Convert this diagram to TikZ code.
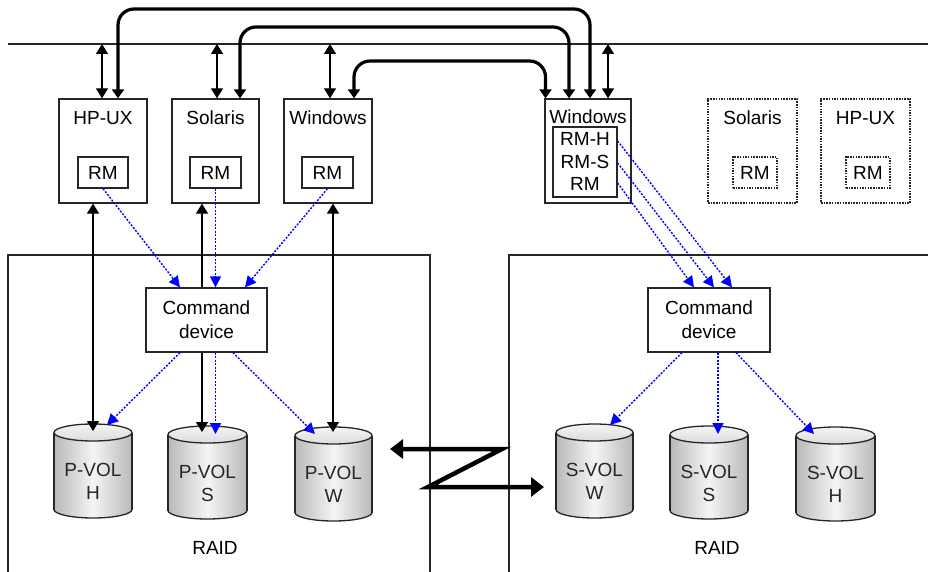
\documentclass[tikz,border=0pt]{standalone}
\usepackage{fontspec}
\setmainfont{Liberation Sans}
\usetikzlibrary{arrows.meta,calc}
\newcommand\drum[6]{%
  \pgfmathsetmacro\dcx{(#2+#3)/2}%
  \pgfmathsetmacro\drx{(#3-#2)/2}%
  \pgfmathsetmacro\dyt{#4+8.5}%
  \pgfmathsetmacro\dyb{#5-8.5}%
  \pgfmathsetmacro\dcy{(#4+#5)/2}%
  \pgfmathsetmacro\dty{#4+57}%
  \path[draw=black!85,line width=1.3pt,left color=gray!55,right color=gray!55,middle color=gray!8] (\dcx,\dyb) ellipse [x radius=\drx, y radius=8.5];
  \path[left color=gray!55,right color=gray!55,middle color=gray!8] (#2,\dyt) rectangle (#3,\dyb);
  \draw[black!85,line width=1.3pt] (#2,\dyt) -- (#2,\dyb) (#3,\dyt) -- (#3,\dyb);
  \path[draw=black!85,line width=1.3pt,top color=gray!8,bottom color=gray!28] (\dcx,\dyt) ellipse [x radius=\drx, y radius=8.5];
  \node[inner sep=0pt,minimum width=#3-#2,minimum height=#5-#4] (#1) at (\dcx,\dcy) {};
  \node[align=center,text=black!85,font=\fontsize{19}{23}\selectfont] (#1t) at (\dcx,\dty) {#6};
}
\begin{document}
\begin{tikzpicture}[x=1pt,y=-1pt,font=\fontsize{19}{24}\selectfont,
  host/.style={draw=black!85,line width=1.3pt,fill=white,inner sep=0pt},
  ghost/.style={draw=black!85,line width=1.3pt,dash pattern=on 1.5pt off 1.2pt,inner sep=0pt},
  dbl/.style={black,line width=1.3pt,{Triangle[length=10pt,width=12pt]}-{Triangle[length=10pt,width=12pt]}},
  fat/.style={black,line width=3.2pt,rounded corners=16pt,{Triangle[length=9pt,width=12pt]}-{Triangle[length=9pt,width=12pt]}},
  blu/.style={blue,line width=1.4pt,dash pattern=on 2pt off 1.5pt,-{Triangle[length=11pt,width=11pt]}},
  raid/.style={draw=black!85,line width=1.3pt}]
\useasboundingbox (0,0) rectangle (928,572);
\path[fill=white] (0,0) rectangle (928,572);

% bus line
\coordinate (busL) at (8,44);
\coordinate (busR) at (928,44);
\draw[black!85,line width=1.3pt] (busL) -- (busR);

% RAID boxes
\coordinate (rl1) at (8,575);
\coordinate (rl2) at (8,255);
\coordinate (rl3) at (430,255);
\coordinate (rl4) at (430,575);
\draw[raid] (rl1) -- (rl2) -- (rl3) -- (rl4);
\coordinate (rr1) at (509,575);
\coordinate (rr2) at (509,255);
\coordinate (rr3) at (930,255);
\draw[raid] (rr1) -- (rr2) -- (rr3);
\node (raidL) at (215,548) {RAID};
\node (raidR) at (717,548) {RAID};

% left hosts
\node[host,minimum width=88pt,minimum height=104pt] (hp) at (103,151) {};
\node (hpl) at (103,118) {HP-UX};
\node[host,minimum width=50pt,minimum height=31pt] (hprm) at (103,172.5) {RM};
\node[host,minimum width=87pt,minimum height=104pt] (so) at (215.5,151) {};
\node (sol) at (215.5,118) {Solaris};
\node[host,minimum width=51pt,minimum height=31pt] (sorm) at (215.5,172.5) {RM};
\node[host,minimum width=88pt,minimum height=104pt] (wi) at (328,151) {};
\node (wil) at (328,118) {Windows};
\node[host,minimum width=51pt,minimum height=31pt] (wirm) at (327.5,172.5) {RM};

% right host
\node[host,minimum width=86pt,minimum height=104pt] (wr) at (588,151) {};
\node (wrl) at (588,117) {Windows};
\node[host,minimum width=64pt,minimum height=70pt] (wrrm) at (585,162) {};
\node (rmh) at (585,139) {RM-H};
\node (rms) at (585,162) {RM-S};
\node (rmr) at (585,184) {RM};

% ghost hosts
\node[ghost,minimum width=89pt,minimum height=104pt] (gs) at (752.5,151) {};
\node (gsl) at (752.5,118) {Solaris};
\node[ghost,minimum width=44pt,minimum height=31pt] (gsrm) at (755,172.5) {RM};
\node[ghost,minimum width=89pt,minimum height=104pt] (gh) at (865.5,151) {};
\node (ghl) at (865.5,118) {HP-UX};
\node[ghost,minimum width=44pt,minimum height=31pt] (ghrm) at (868,172.5) {RM};

% bus arrows
\coordinate (a1) at (102,44);
\coordinate (a2) at (217,44);
\coordinate (a3) at (330,44);
\coordinate (a4) at (608,44);
\draw[dbl] (a1) -- (a1 |- hp.north);
\draw[dbl] (a2) -- (a2 |- so.north);
\draw[dbl] (a3) -- (a3 |- wi.north);
\draw[dbl] (a4) -- (a4 |- wr.north);

% thick links
\coordinate (t1) at (118,9);
\coordinate (t1r) at (590,9);
\coordinate (t2) at (240,27);
\coordinate (t2r) at (569,27);
\coordinate (t3) at (354,61);
\coordinate (t3r) at (545.5,61);
\draw[fat] (t1 |- hp.north) -- (t1) -- (t1r) -- (t1r |- wr.north);
\draw[fat] (t2 |- so.north) -- (t2) -- (t2r) -- (t2r |- wr.north);
\draw[fat] (t3 |- wi.north) -- (t3) -- (t3r) -- (t3r |- wr.north);

% cylinders
\drum{pvh}{54}{132}{424}{518}{P-VOL\\H}
\drum{pvs}{168}{247}{426}{519}{P-VOL\\S}
\drum{pvw}{295}{372}{427}{521}{P-VOL\\W}
\drum{svw}{556}{633}{424}{518}{S-VOL\\W}
\drum{svs}{670}{748}{426}{519}{S-VOL\\S}
\drum{svh}{796}{875}{427}{521}{S-VOL\\H}

% black host-volume arrows
\coordinate (b1) at (93,431);
\coordinate (b2) at (202,432);
\coordinate (b3) at (333,432);
\draw[dbl] (b1 |- hp.south) -- (b1);
\draw[dbl] (b2 |- so.south) -- (b2);
\draw[dbl] (b3 |- wi.south) -- (b3);

% command devices
\node[host,minimum width=121pt,minimum height=64pt,align=center] (cdL) at (206.5,320) {Command\\device};
\node[host,minimum width=122pt,minimum height=64pt,align=center] (cdR) at (709,320) {Command\\device};

% blue arrows left
\draw[blu] (hprm.south) -- ($(cdL.north)+(-26.5,0)$);
\draw[blu] (sorm.south) -- ($(cdL.north)+(9,0)$);
\draw[blu] (wirm.south) -- ($(cdL.north)+(38.5,0)$);
\coordinate (p1) at (107,425);
\coordinate (p2) at (215.5,434);
\coordinate (p3) at (315,434);
\draw[blu] ($(cdL.south)+(-26.5,0)$) -- (p1);
\draw[blu] ($(cdL.south)+(9,0)$) -- (p2);
\draw[blu] ($(cdL.south)+(26.5,0)$) -- (p3);

% blue arrows right
\draw[blu] (wrrm.east |- rmh) ++(0,2) -- ($(cdR.north)+(23,0)$);
\draw[blu] (wrrm.east |- rms) ++(0,1) -- ($(cdR.north)+(5,0)$);
\draw[blu] (wrrm.east |- rmr) ++(0,-1) -- ($(cdR.north)+(-15,0)$);
\coordinate (s1) at (610,425);
\coordinate (s2) at (718,434);
\coordinate (s3) at (814,434);
\draw[blu] ($(cdR.south)+(-27,0)$) -- (s1);
\draw[blu] ($(cdR.south)+(9,0)$) -- (s2);
\draw[blu] ($(cdR.south)+(27,0)$) -- (s3);

% Z link
\coordinate (z1) at (390,449);
\coordinate (z2) at (502,449);
\coordinate (z3) at (428,487);
\coordinate (z4) at (544,487);
\draw[black,line width=4.5pt,line join=miter,{Triangle[length=13pt,width=19pt]}-{Triangle[length=13pt,width=19pt]}] (z1) -- (z2) -- (z3) -- (z4);
\end{tikzpicture}
\end{document}
